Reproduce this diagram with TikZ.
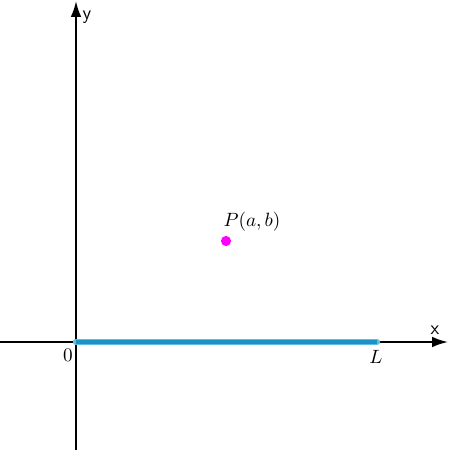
\documentclass[tikz,border=0pt]{standalone}
\usetikzlibrary{arrows.meta}
\definecolor{segblue}{RGB}{28,145,195}
\definecolor{segedge}{RGB}{95,190,228}
\definecolor{ptmag}{RGB}{255,0,255}
\begin{document}
\begin{tikzpicture}[x=0.57pt,y=-0.57pt,
  axis/.style={line width=1.1pt,-{Latex[length=9pt,width=6pt]}},
  lbl/.style={inner sep=0pt,font=\fontsize{11.3}{13}\selectfont},
  axlbl/.style={inner sep=0pt,font=\sffamily\fontsize{11}{13}\selectfont}]
\useasboundingbox (0,0) rectangle (449,450);
\coordinate (xs) at (0,342);
\coordinate (xe) at (448,342);
\coordinate (ys) at (76,450);
\coordinate (ye) at (76,1);
\draw[axis] (xs) -- (xe);
\draw[axis] (ys) -- (ye);
\coordinate (O) at (76,342);
\coordinate (Lp) at (377,342);
\draw[segedge,line width=3.6pt,line cap=round] (O) -- (Lp);
\draw[segblue,line width=1.9pt] (O) -- (Lp);
\node[circle,fill=ptmag,inner sep=0pt,minimum size=5.8pt] (P) at (226,241) {};
\node[lbl] (Plbl) at (252,222) {$P(a,b)$};
\node[axlbl] (ylbl) at (87,17) {y};
\node[axlbl] (xlbl) at (435,330) {x};
\node[lbl] (zero) at (68,355) {$0$};
\node[lbl] (Llbl) at (376,357) {$L$};
\end{tikzpicture}
\end{document}
